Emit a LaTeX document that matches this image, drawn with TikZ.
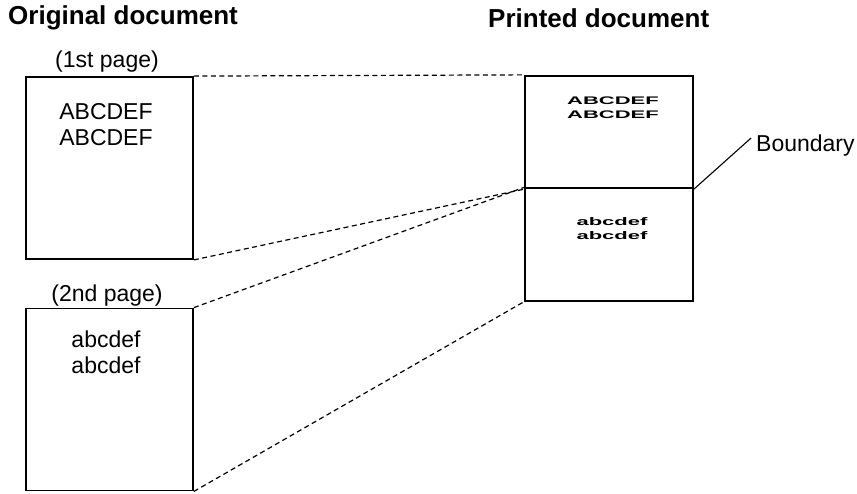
\documentclass[tikz,border=0pt]{standalone}
\usepackage{fontspec}
\usepackage{graphicx}
\setmainfont{Liberation Sans}
\newcommand{\widetext}[1]{\scalebox{2}[1]{#1}}

\begin{document}
\begin{tikzpicture}[
  x=1pt, y=-1pt,
  every node/.style={inner sep=0pt, align=center},
  title/.style={font=\fontsize{26}{30}\selectfont\bfseries, anchor=west},
  caption/.style={font=\fontsize{23}{27}\selectfont},
  page/.style={draw, line width=1.8pt, minimum width=167pt, minimum height=182pt},
  half/.style={draw, line width=1.8pt, minimum width=168pt, minimum height=112.5pt},
  bigtext/.style={font=\fontsize{23}{26}\selectfont},
  smalltext/.style={font=\fontsize{11}{14}\selectfont\bfseries},
  guide/.style={dash pattern=on 5pt off 3.5pt, line width=1.2pt}
]
\useasboundingbox (0,0) rectangle (857,493);

%% Headings
\node[title] (origtitle) at (8,18) {Original document};
\node[title] (printtitle) at (488,18) {Printed document};

%% Original pages
\node[caption] (cap1) at (107,62) {(1st page)};
\node[page] (page1) at (109.5,168) {};
\node[bigtext] (text1) at (106,125) {ABCDEF\\ABCDEF};

\node[caption] (cap2) at (107,296) {(2nd page)};
\node[page] (page2) at (109.5,399.5) {};
\node[bigtext] (text2) at (106,352) {abcdef\\abcdef};

%% Printed page (two halves)
\node[half] (outtop) at (609,132) {};
\node[half] (outbot) at (609,244.5) {};
\node[smalltext] (small1) at (613,108) {\widetext{ABCDEF}\\\widetext{ABCDEF}};
\node[smalltext] (small2) at (612,229) {\widetext{abcdef}\\\widetext{abcdef}};

%% Boundary label
\node[caption, anchor=west] (bndlabel) at (756,146) {Boundary};
\draw[line width=1.1pt] (outtop.south east) -- ([shift={(-5pt,-3pt)}]bndlabel.north west);

%% Dashed guides
\draw[guide] (page1.north east) -- (outtop.north west);
\draw[guide] (page1.south east) -- (outtop.south west);
\draw[guide] (page2.north east) -- (outbot.north west);
\draw[guide] (page2.south east) -- (outbot.south west);

\end{tikzpicture}
\end{document}
